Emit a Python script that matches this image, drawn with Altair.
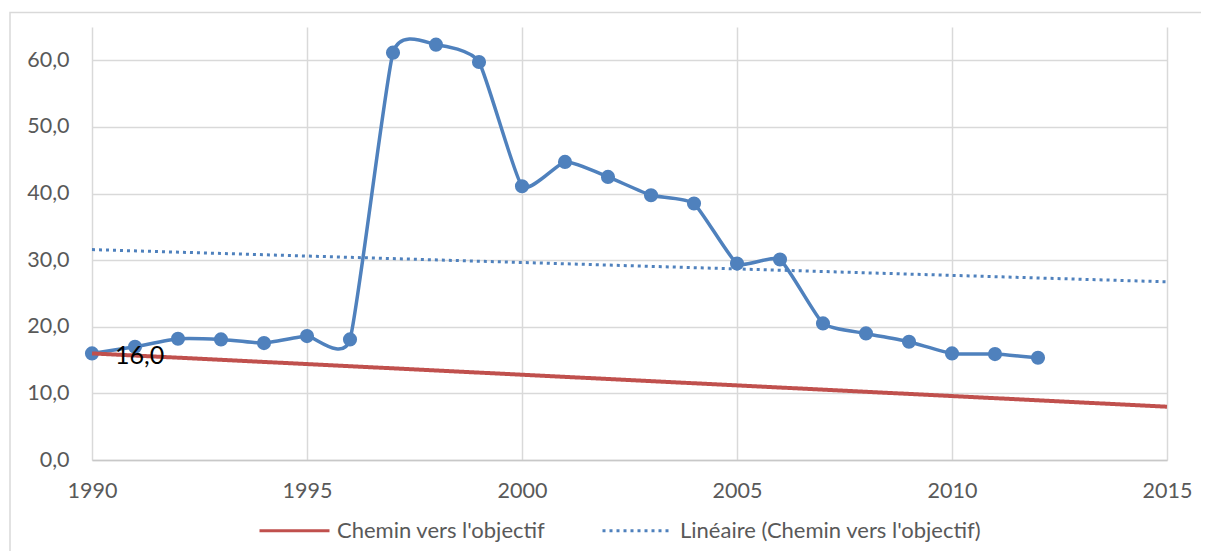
import json
import altair as alt
import pandas as pd

# ---- data ----
years = list(range(1990, 2013))
values = [16.0, 17.0, 18.2, 18.1, 17.55, 18.6, 18.1, 61.15, 62.35, 59.75,
          41.1, 44.75, 42.5, 39.75, 38.5, 29.5, 30.1, 20.5, 19.0, 17.75,
          16.0, 15.9, 15.35]
target_years = [1990, 2015]
target_values = [16.0, 8.0]
series_names = ["Chemin vers l'objectif", "Linéaire (Chemin vers l'objectif)"]
x_ticks = [1990, 1995, 2000, 2005, 2010, 2015]
y_ticks = [0, 10, 20, 30, 40, 50, 60]
label_year = 1990

BLUE = "#4F81BD"
RED = "#C0504D"
FONT = "Lato"
TXT = "#595959"

obs = pd.DataFrame({"year": years, "value": values})
target = pd.DataFrame({"year": target_years, "value": target_values,
                       "series": [series_names[0]] * len(target_years)})

fmt = "replace(format(datum.value, '.1f'), '.', ',')"

x = alt.X("year:Q",
          scale=alt.Scale(domain=[1990, 2015], nice=False, zero=False),
          axis=alt.Axis(values=x_ticks, format="d", title=None, ticks=False,
                        tickSize=0, labelPadding=31, labelBaseline="middle",
                        labelFontSize=21.5, labelFont=FONT, labelColor=TXT,
                        domain=True, domainColor="#C8C8C8", domainWidth=1.5,
                        grid=True, labelFlush=False))
y = alt.Y("value:Q",
          scale=alt.Scale(domain=[0, 65], nice=False),
          axis=alt.Axis(values=y_ticks, labelExpr=fmt, title=None, ticks=False,
                        tickSize=0, labelPadding=23, labelFontSize=21.5,
                        labelFont=FONT, labelColor=TXT, domain=False, grid=True))

color = alt.Color("series:N",
                  scale=alt.Scale(domain=series_names, range=[RED, BLUE]),
                  legend=alt.Legend(title=None))
dash = alt.StrokeDash("series:N",
                      scale=alt.Scale(domain=series_names, range=[[1, 0], [3, 4]]),
                      legend=alt.Legend(title=None))

frame = alt.Chart(alt.Data(values=[{"a": 1}])).mark_rect(
    fill="transparent", stroke="#D9D9D9", strokeWidth=1.5
).encode(x=alt.value(-82), x2=alt.value(1160), y=alt.value(-14.5), y2=alt.value(600))

target_line = alt.Chart(target).mark_line(strokeWidth=4).encode(
    x=x, y=y, color=color, strokeDash=dash)

trend = alt.Chart(obs).transform_regression(
    "year", "value", extent=[1990, 2015]
).transform_calculate(
    series=json.dumps(series_names[1])
).mark_line(strokeWidth=3, strokeCap="butt").encode(
    x=x, y=y, color=color, strokeDash=dash)

smooth = alt.Chart(obs).mark_line(
    color=BLUE, strokeWidth=3.5, interpolate="cardinal", tension=0.5
).encode(x=x, y=y)

points = alt.Chart(obs).mark_circle(size=200, color=BLUE, opacity=1).encode(x=x, y=y)

label = alt.Chart(obs).transform_filter(
    alt.datum.year == label_year
).transform_calculate(
    lbl=fmt
).mark_text(align="left", baseline="middle", dx=23, dy=3, fontSize=25,
            color="black", font=FONT).encode(x=x, y=y, text="lbl:N")

chart = alt.layer(frame, trend, smooth, points, target_line, label).properties(
    width=1075, height=433,
    autosize=alt.AutoSizeParams(type="none"),
    padding={"left": 84, "top": 19, "right": 34, "bottom": 91},
).configure_view(
    stroke="transparent"
).configure_axis(
    gridColor="#D9D9D9", gridWidth=1.5
).configure_legend(
    orient="none", legendX=166, legendY=467, direction="horizontal",
    symbolType="stroke", symbolSize=4900, symbolStrokeWidth=3,
    labelFontSize=22, labelFont=FONT, labelColor=TXT, labelOffset=6,
    columnPadding=50, padding=0, labelLimit=600
)

chart.save("out.html", embed_options={"renderer": "svg", "actions": False})
